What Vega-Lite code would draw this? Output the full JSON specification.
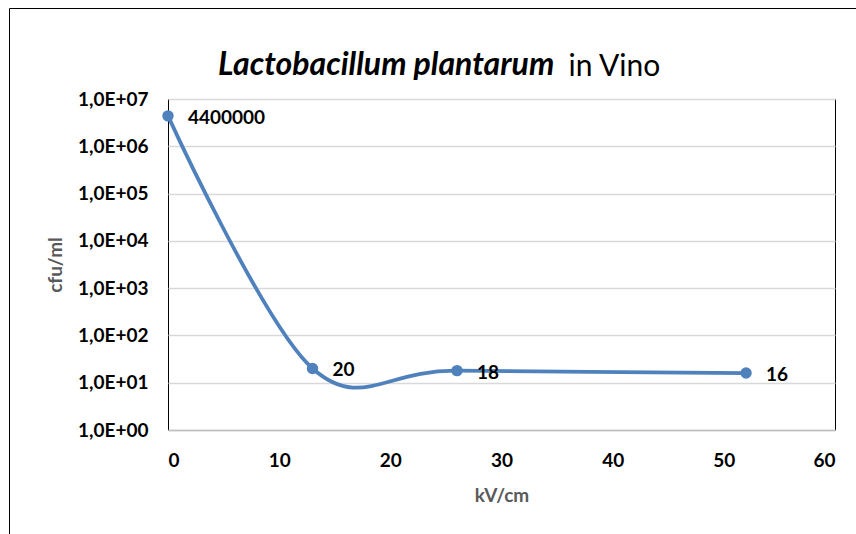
{
  "$schema": "https://vega.github.io/schema/vega-lite/v6.json",
  "autosize": {"type": "none"},
  "width": 667,
  "height": 331,
  "padding": {"left": 168, "top": 99, "right": 21, "bottom": 104},
  "background": "white",
  "title": {
    "text": "Lactobacillum plantarum",
    "frame": "group",
    "anchor": "start",
    "align": "left",
    "baseline": "alphabetic",
    "dx": 50,
    "offset": -99,
    "font": "Lato",
    "fontSize": 32,
    "fontStyle": "italic",
    "fontWeight": "bold",
    "color": "black"
  },
  "config": {
    "view": {"stroke": "black", "strokeWidth": 1},
    "axis": {"labelFont": "Lato", "titleFont": "Lato"}
  },
  "data": {
    "values": [
      {"kv": 0, "cfu": 4400000},
      {"kv": 13, "cfu": 20},
      {"kv": 26, "cfu": 18},
      {"kv": 52, "cfu": 16}
    ]
  },
  "resolve": {"axis": {"x": "independent", "y": "independent"}},
  "layer": [
    {
      "mark": {"type": "line", "interpolate": "cardinal", "color": "#4F81BD", "strokeWidth": 3.75},
      "encoding": {
        "x": {
          "field": "kv", "type": "quantitative",
          "scale": {"domain": [0, 60], "nice": false, "zero": false},
          "axis": {
            "orient": "bottom",
            "values": [0, 10, 20, 30, 40, 50, 60],
            "ticks": false,
            "grid": false,
            "domain": true,
            "domainColor": "#BFBFBF",
            "domainWidth": 1.5,
            "labelFontSize": 19,
            "labelFontWeight": "bold",
            "labelColor": "black",
            "labelPadding": 21,
            "title": "kV/cm",
            "titleFontSize": 19,
            "titleFontWeight": "bold",
            "titleColor": "#595959",
            "titlePadding": 16,
            "zindex": 1
          }
        },
        "y": {
          "field": "cfu", "type": "quantitative",
          "scale": {"type": "log", "domain": [1, 10000000], "nice": false},
          "axis": {
            "orient": "left",
            "values": [1, 10, 100, 1000, 10000, 100000, 1000000, 10000000],
            "labelExpr": "'1,0E+0' + format(round(log(datum.value) / LN10), 'd')",
            "ticks": false,
            "domain": false,
            "grid": true,
            "gridColor": "#D9D9D9",
            "gridWidth": 1.5,
            "labelFontSize": 19,
            "labelFontWeight": "bold",
            "labelColor": "black",
            "labelPadding": 20,
            "title": "cfu/ml",
            "titleFontSize": 19,
            "titleFontWeight": "bold",
            "titleColor": "#595959",
            "titlePadding": 12
          }
        }
      }
    },
    {
      "mark": {"type": "point", "filled": true, "color": "#4F81BD", "size": 130, "opacity": 1},
      "encoding": {
        "x": {
          "field": "kv", "type": "quantitative",
          "axis": {
            "orient": "bottom",
            "offset": -422,
            "values": [0],
            "tickOffset": -159,
            "tickSize": 560,
            "tickColor": "black",
            "tickWidth": 1,
            "domain": false,
            "labels": false,
            "grid": false,
            "title": null
          }
        },
        "y": {
          "field": "cfu", "type": "quantitative",
          "axis": {
            "orient": "right",
            "offset": -826,
            "values": [10000000],
            "tickOffset": -91,
            "tickSize": 900,
            "tickColor": "black",
            "tickWidth": 1,
            "domain": false,
            "labels": false,
            "grid": false,
            "title": null
          }
        }
      }
    },
    {
      "mark": {"type": "text", "align": "left", "baseline": "middle", "dx": 20, "dy": 2, "font": "Lato", "fontSize": 19, "fontWeight": "bold", "color": "black"},
      "encoding": {
        "x": {
          "field": "kv", "type": "quantitative",
          "axis": {
            "orient": "top",
            "values": [],
            "ticks": false,
            "labels": false,
            "domain": false,
            "grid": false,
            "title": "in Vino",
            "titleFont": "Lato",
            "titleFontSize": 30,
            "titleFontWeight": "normal",
            "titleColor": "black",
            "titleAlign": "left",
            "titleAnchor": "start",
            "titleBaseline": "alphabetic",
            "titleX": 400,
            "titleY": -24
          }
        },
        "y": {"field": "cfu", "type": "quantitative", "axis": null},
        "text": {"field": "cfu", "type": "quantitative", "format": "d"}
      }
    }
  ]
}
